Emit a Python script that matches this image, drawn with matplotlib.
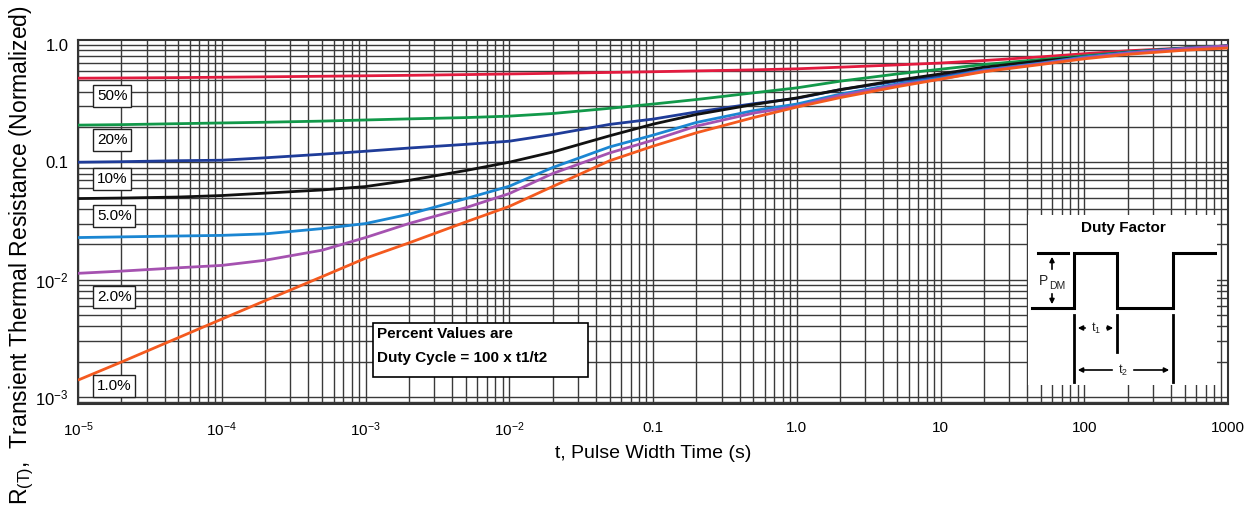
import matplotlib
matplotlib.use("Agg")
import matplotlib.pyplot as plt
from matplotlib.patches import Rectangle

plt.rcParams['font.family'] = ['Liberation Sans', 'DejaVu Sans']
plt.rcParams['mathtext.fontset'] = 'custom'
plt.rcParams['mathtext.rm'] = 'Liberation Sans'
plt.rcParams['mathtext.it'] = 'Liberation Sans:italic'
plt.rcParams['mathtext.bf'] = 'Liberation Sans:bold'
plt.rcParams['mathtext.default'] = 'regular'

# ---------------- data ----------------
t = [1e-5, 2e-5, 5e-5, 1e-4, 2e-4, 5e-4, 1e-3, 2e-3, 5e-3, 1e-2, 2e-2, 5e-2,
     0.1, 0.2, 0.5, 1, 2, 5, 10, 20, 50, 100, 200, 500, 1000]

r_50 = [0.520, 0.522, 0.526, 0.530, 0.534, 0.540, 0.545, 0.550, 0.558, 0.565, 0.572, 0.582,
        0.590, 0.600, 0.612, 0.625, 0.645, 0.675, 0.700, 0.735, 0.790, 0.840, 0.890, 0.940, 0.980]
r_20 = [0.207, 0.209, 0.213, 0.216, 0.219, 0.224, 0.229, 0.234, 0.240, 0.247, 0.260, 0.288,
        0.313, 0.342, 0.390, 0.430, 0.490, 0.565, 0.620, 0.680, 0.750, 0.805, 0.870, 0.940, 0.980]
r_10 = [0.100, 0.101, 0.103, 0.104, 0.109, 0.117, 0.124, 0.132, 0.142, 0.151, 0.172, 0.210,
        0.233, 0.268, 0.315, 0.350, 0.415, 0.490, 0.540, 0.615, 0.700, 0.780, 0.860, 0.935, 0.975]
r_5 = [0.0490, 0.0495, 0.0505, 0.0520, 0.0545, 0.0580, 0.0620, 0.0700, 0.0850, 0.100, 0.122, 0.168,
       0.211, 0.255, 0.310, 0.353, 0.415, 0.500, 0.565, 0.645, 0.730, 0.790, 0.860, 0.935, 0.980]
r_2 = [0.0228, 0.0231, 0.0235, 0.0238, 0.0245, 0.0272, 0.0300, 0.0360, 0.0490, 0.0624, 0.090, 0.135,
       0.170, 0.218, 0.275, 0.313, 0.380, 0.465, 0.520, 0.610, 0.700, 0.790, 0.860, 0.935, 0.980]
r_1p5 = [0.0113, 0.0118, 0.0126, 0.0132, 0.0146, 0.0178, 0.0228, 0.0300, 0.0410, 0.0540, 0.080, 0.120,
         0.154, 0.203, 0.262, 0.300, 0.370, 0.455, 0.510, 0.600, 0.690, 0.775, 0.850, 0.930, 0.980]
r_1 = [0.00139, 0.00198, 0.0032, 0.0046, 0.0066, 0.0106, 0.0152, 0.0205, 0.031, 0.042, 0.062, 0.103,
       0.137, 0.178, 0.240, 0.295, 0.355, 0.440, 0.510, 0.590, 0.680, 0.760, 0.830, 0.900, 0.940]

series = [r_50, r_20, r_10, r_5, r_2, r_1p5, r_1]
colors = ['#e31b3f', '#12994a', '#1f3c99', '#111111', '#1b86d2', '#a552b0', '#f45a1f']

labels = ['50%', '20%', '10%', '5.0%', '2.0%', '1.0%']
label_y_px = [96, 140, 179, 216, 297, 386]

x_ticks = [1e-5, 1e-4, 1e-3, 1e-2, 0.1, 1, 10, 100, 1000]
x_tick_labels = ['10$^{-5}$', '10$^{-4}$', '10$^{-3}$', '10$^{-2}$', '0.1', '1.0', '10', '100', '1000']
y_ticks = [1e-3, 1e-2, 0.1, 1.0]
y_tick_labels = ['10$^{-3}$', '10$^{-2}$', '0.1', '1.0']

W, H = 1255, 508


def fx(x):
    return x / W


def fy(y):
    return 1 - y / H


fig = plt.figure(figsize=(W / 100, H / 100), dpi=100)
ax = fig.add_axes([fx(78), fy(404), (1228 - 78) / W, (404 - 40) / H])
ax.set_xscale('log')
ax.set_yscale('log')
ax.set_xlim(1e-5, 1000)
ax.set_ylim(8.7e-4, 1.1)

for vals, c in zip(series, colors):
    ax.plot(t, vals, color=c, lw=2.0, zorder=3, solid_capstyle='butt', solid_joinstyle='round')

ax.grid(True, which='both', color='#3a3a3a', lw=1.0, zorder=1)
ax.set_axisbelow(True)
ax.set_xticks(x_ticks)
ax.set_xticklabels(x_tick_labels, fontsize=11)
ax.set_yticks(y_ticks)
ax.set_yticklabels(y_tick_labels, fontsize=12)
ax.tick_params(which='both', length=0)
ax.tick_params(axis='x', pad=12)
ax.tick_params(axis='y', pad=7)
for s in ax.spines.values():
    s.set_linewidth(1.5)
    s.set_color('#333333')

ax.set_xlabel('t, Pulse Width Time (s)', fontsize=14, labelpad=4)
fig.text(fx(22), fy(255), 'R$_{(T)}$,  Transient Thermal Resistance (Normalized)',
         rotation=90, ha='center', va='center', fontsize=16.5)

# percentage labels
for lab, yp in zip(labels, label_y_px):
    fig.text(fx(97), fy(yp), lab, fontsize=11, ha='left', va='center', zorder=6,
             bbox=dict(boxstyle='square,pad=0.25', fc='white', ec='#222222', lw=1.0))

# note box
fig.add_artist(Rectangle((fx(373), fy(377)), (588 - 373) / W, (377 - 323) / H,
                         transform=fig.transFigure, fc='white', ec='black', lw=1.2, zorder=5))
fig.text(fx(377), fy(334), 'Percent Values are', fontsize=11, fontweight='bold',
         ha='left', va='center', zorder=6)
fig.text(fx(377), fy(358), 'Duty Cycle = 100 x t1/t2', fontsize=11, fontweight='bold',
         ha='left', va='center', zorder=6)

# duty factor inset
ia = fig.add_axes([fx(1028), fy(385), (1217 - 1028) / W, (385 - 215) / H])
ia.set_facecolor('white')
ia.set_xlim(1028, 1217)
ia.set_ylim(385, 215)
ia.set_xticks([])
ia.set_yticks([])
for s in ia.spines.values():
    s.set_visible(False)
ia.text(1123, 228, 'Duty Factor', fontsize=11, fontweight='bold', ha='center', va='center')
ia.plot([1032, 1074, 1074, 1117, 1117, 1173, 1173, 1215],
        [308, 308, 253, 253, 308, 308, 253, 253], color='black', lw=2.2, solid_joinstyle='miter')
ia.plot([1038, 1068], [253, 253], color='black', lw=2.2)
# P_DM arrows
ia.annotate('', xy=(1052, 254), xytext=(1052, 272),
            arrowprops=dict(arrowstyle='-|>', color='black', lw=1.2, mutation_scale=7))
ia.annotate('', xy=(1052, 307), xytext=(1052, 291),
            arrowprops=dict(arrowstyle='-|>', color='black', lw=1.2, mutation_scale=7))
ia.text(1043, 281, 'P', fontsize=10, ha='center', va='center', color='#222222')
ia.text(1057, 286, 'DM', fontsize=7.5, ha='center', va='center', color='#222222')
# t1 / t2 markers
ia.plot([1074, 1074], [315, 382], color='black', lw=2.0)
ia.plot([1117, 1117], [315, 352], color='black', lw=2.0)
ia.plot([1173, 1173], [315, 382], color='black', lw=2.0)
ia.annotate('', xy=(1075, 328), xytext=(1088, 328),
            arrowprops=dict(arrowstyle='-|>', color='black', lw=1.2, mutation_scale=7))
ia.annotate('', xy=(1116, 328), xytext=(1104, 328),
            arrowprops=dict(arrowstyle='-|>', color='black', lw=1.2, mutation_scale=7))
ia.text(1096, 328, 't$_1$', fontsize=9, ha='center', va='center', color='#222222')
ia.annotate('', xy=(1075, 370), xytext=(1115, 370),
            arrowprops=dict(arrowstyle='-|>', color='black', lw=1.2, mutation_scale=7))
ia.annotate('', xy=(1172, 370), xytext=(1131, 370),
            arrowprops=dict(arrowstyle='-|>', color='black', lw=1.2, mutation_scale=7))
ia.text(1123, 370, 't$_2$', fontsize=9, ha='center', va='center', color='#222222')

fig.savefig('out.png', dpi=100)
